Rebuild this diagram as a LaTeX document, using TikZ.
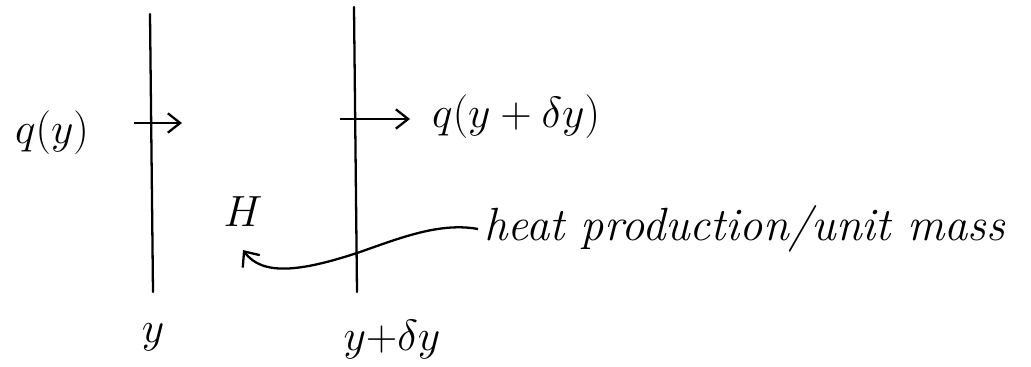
\documentclass[tikz,border=0pt]{standalone}
\usepackage{amsmath,amssymb}
\usetikzlibrary{arrows.meta, positioning}

\begin{document}
\begin{tikzpicture}[
    x=0.02cm, y=-0.02cm,
    wall/.style={line width=1.3pt, line cap=round},
    flux/.style={line width=1.3pt, -{Straight Barb[length=7pt, width=11pt]}},
    source/.style={line width=1.3pt, {Straight Barb[length=7pt, width=12pt]}-},
    label/.style={font=\fontsize{24}{28}\selectfont},
]
    \useasboundingbox (0,0) rectangle (1031,366);

    % Walls
    \coordinate (ltop) at (150,14);
    \coordinate (lbot) at (153,292);
    \coordinate (rtop) at (354,7);
    \coordinate (rbot) at (357,292);
    \draw [wall] (ltop) -- (lbot);
    \draw [wall] (rtop) -- (rbot);

    % Heat flux in and out
    \coordinate (qin-s) at (134,123);
    \coordinate (qin-e) at (182,123);
    \coordinate (qout-s) at (340,119);
    \coordinate (qout-e) at (410,119);
    \node (qin) [label] at (52,133) {$q(y)$};
    \node (qout) [label, anchor=west] at (426,117) {$q(y+\delta y)$};
    \draw [flux] (qin-s) -- (qin-e);
    \draw [flux] (qout-s) -- (qout-e);

    % Source term
    \node (H) [label] at (243,212) {$H$};
    \node (heat) [label, font=\fontsize{26.5}{30}\selectfont, anchor=west] at (478,229)
        {\itshape heat production/unit mass};
    \coordinate (hend) at (243,250);
    \draw [source] (hend) .. controls (262,276) and (300,272) .. (360,252)
        .. controls (400,238) and (440,222) .. (heat.west);

    % Positions
    \node (ylab) [label, below=0.5cm of lbot] {$y$};
    \node (ydylab) [label] at (392,340) {$y{+}\delta y$};

\end{tikzpicture}
\end{document}
